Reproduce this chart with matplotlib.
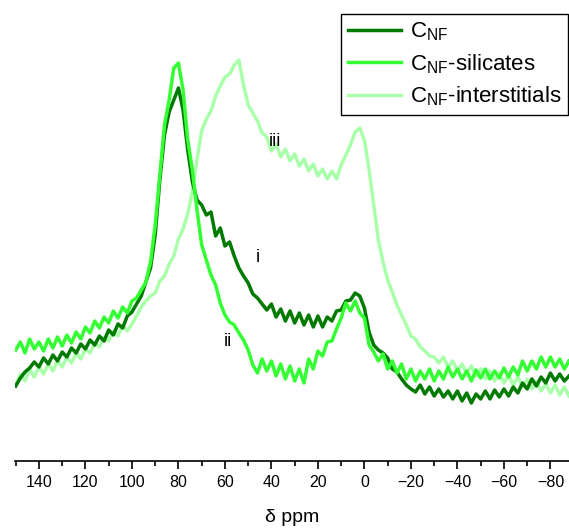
import numpy as np
import matplotlib
matplotlib.use("Agg")
import matplotlib.pyplot as plt
from matplotlib.ticker import MultipleLocator

plt.rcParams['font.family'] = ['Liberation Sans', 'DejaVu Sans']
plt.rcParams['mathtext.fontset'] = 'custom'
plt.rcParams['mathtext.rm'] = 'Liberation Sans'
plt.rcParams['mathtext.it'] = 'Liberation Sans:italic'

# chemical shift grid (ppm)
ppm = np.arange(150, -89, -2)

# intensities (arbitrary units)
cnf_px = [386, 378, 372, 368, 362, 367, 358, 364, 355, 361, 352, 357, 348, 353, 344, 349,
          340, 345, 336, 341, 330, 335, 324, 328, 316, 312, 304, 296, 282, 268, 235, 180,
          135, 112, 100, 88, 110, 150, 182, 200, 205, 215, 212, 236, 228, 246, 242, 256,
          268, 276, 283, 294, 298, 304, 310, 304, 317, 309, 321, 311, 323, 313, 325, 315,
          327, 316, 327, 317, 321, 311, 310, 301, 300, 293, 296, 308, 332, 345, 350, 353,
          358, 369, 372, 379, 385, 389, 392, 385, 394, 387, 396, 389, 397, 391, 399, 391,
          401, 393, 403, 394, 399, 391, 399, 390, 397, 389, 396, 387, 393, 383, 389, 379,
          386, 377, 383, 373, 381, 374, 381, 376]
sil_px = [350, 342, 353, 339, 349, 342, 351, 339, 348, 337, 346, 335, 343, 332, 339, 327,
          333, 321, 328, 317, 323, 311, 318, 307, 313, 301, 298, 290, 282, 262, 225, 175,
          125, 100, 68, 63, 90, 140, 170, 210, 245, 260, 275, 285, 303, 315, 322, 325,
          333, 340, 350, 365, 373, 359, 371, 361, 376, 364, 379, 366, 381, 369, 383, 359,
          369, 351, 356, 342, 341, 329, 318, 303, 311, 301, 313, 318, 345, 352, 361, 354,
          369, 361, 373, 364, 379, 369, 381, 371, 379, 369, 381, 371, 379, 367, 377, 369,
          379, 371, 381, 370, 378, 369, 379, 371, 378, 368, 377, 367, 375, 361, 371, 361,
          369, 357, 367, 357, 367, 359, 369, 361]
int_px = [385, 374, 381, 369, 377, 367, 374, 364, 371, 361, 367, 357, 363, 353, 359, 349,
          353, 343, 347, 337, 341, 331, 336, 325, 331, 324, 316, 307, 301, 296, 293, 281,
          276, 264, 256, 239, 229, 214, 191, 159, 131, 119, 111, 96, 86, 77, 74, 65,
          60, 85, 105, 113, 121, 133, 137, 151, 144, 157, 149, 161, 154, 166, 159, 171,
          164, 176, 169, 179, 171, 179, 165, 155, 145, 132, 128, 140, 170, 205, 240, 262,
          280, 292, 305, 315, 325, 336, 339, 347, 351, 356, 357, 363, 357, 367, 361, 371,
          364, 373, 366, 376, 369, 379, 371, 381, 373, 383, 375, 385, 377, 387, 379, 389,
          381, 391, 384, 393, 385, 395, 387, 396]

BASE = 461
cnf = BASE - np.array(cnf_px)
sil = BASE - np.array(sil_px)
inter = BASE - np.array(int_px)

labels = [r'C$_{\rm NF}$', r'C$_{\rm NF}$-silicates', r'C$_{\rm NF}$-interstitials']
colors = ['#007a00', '#33ff33', '#aaffaa']

fig = plt.figure(figsize=(5.69, 5.32), dpi=100)
ax = fig.add_axes([15/569, (532-461)/532, 554/569, 461/532])

ax.plot(ppm, inter, color=colors[2], lw=2.5, label=labels[2], zorder=1)
ax.plot(ppm, cnf, color=colors[0], lw=2.5, label=labels[0], zorder=2)
ax.plot(ppm, sil, color=colors[1], lw=2.5, label=labels[1], zorder=3)

ax.set_xlim(150.3, -88)
ax.set_ylim(0, 461)
for s in ['left', 'right', 'top']:
    ax.spines[s].set_visible(False)
ax.spines['bottom'].set_linewidth(1.2)
ax.set_yticks([])
ax.xaxis.set_major_locator(MultipleLocator(20))
ax.xaxis.set_minor_locator(MultipleLocator(10))
ax.tick_params(axis='x', which='major', length=6, width=1.2, labelsize=11.5, direction='out', pad=4)
ax.tick_params(axis='x', which='minor', length=3.5, width=1.2, direction='out')
ax.set_xlabel('δ ppm', fontsize=14, labelpad=14)

ax.text(38.5, BASE - 142, 'iii', fontsize=13, ha='center', va='center')
ax.text(45.8, BASE - 258, 'i', fontsize=13, ha='center', va='center')
ax.text(58.7, BASE - 342, 'ii', fontsize=13, ha='center', va='center')

h, l = ax.get_legend_handles_labels()
order = [1, 2, 0]
leg = ax.legend([h[i] for i in order], [l[i] for i in order],
                loc='upper right', bbox_to_anchor=(568/569, 1 - 14/532),
                bbox_transform=fig.transFigure, borderaxespad=0,
                fontsize=16, frameon=True, fancybox=False, edgecolor='black',
                framealpha=1, handlelength=2.4, handletextpad=0.4,
                labelspacing=0.4, borderpad=0.3)
leg.get_frame().set_linewidth(1.0)

fig.savefig('out.png', dpi=100)
